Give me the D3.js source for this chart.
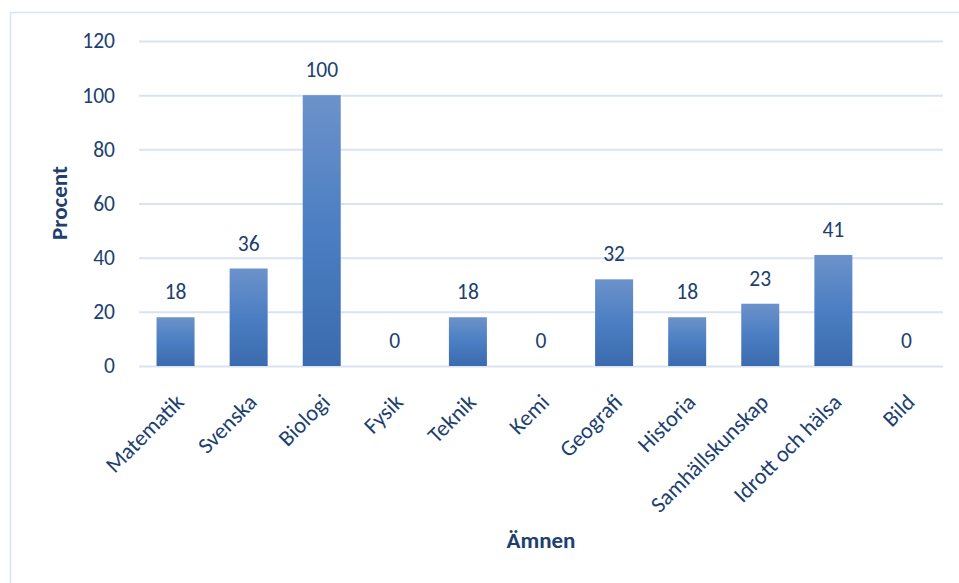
<!DOCTYPE html>
<html><head><meta charset="utf-8">
<script src="https://cdn.jsdelivr.net/npm/d3@7"></script>
<style>body{margin:0;background:#fff}svg{display:block}</style>
</head><body>
<svg id="c" width="959" height="583"></svg>
<script>
const categories = ["Matematik","Svenska","Biologi","Fysik","Teknik","Kemi","Geografi","Historia","Samhällskunskap","Idrott och hälsa","Bild"];
const values = [18,36,100,0,18,0,32,18,23,41,0];
const yTicks = [0,20,40,60,80,100,120];
const yTitle = "Procent";
const xTitle = "Ämnen";

const font = "Carlito, 'Open Sans', sans-serif";
const fs = "21.5px";
const fsX = "22.5px";
const fsT = "23px";
const txt = "#203F6F";
const svg = d3.select("#c");
const W = 959, H = 583;
const m = {l:139, r:943, t:41, b:366};

// border
svg.append("path").attr("d", `M10.5,${H} V12.5 H${W}`).attr("fill","none").attr("stroke","#D6E4F5").attr("stroke-width",1.5);

const defs = svg.append("defs");
const g = defs.append("linearGradient").attr("id","bg").attr("x1",0).attr("x2",0).attr("y1",0).attr("y2",1);
g.append("stop").attr("offset","0%").attr("stop-color","#6C92CA");
g.append("stop").attr("offset","50%").attr("stop-color","#4B7EC2");
g.append("stop").attr("offset","100%").attr("stop-color","#3A6BAE");

const x = d3.scaleBand().domain(categories).range([m.l, m.r]).paddingInner(0.48).paddingOuter(0.24);
const y = d3.scaleLinear().domain([0,120]).range([m.b, m.t]);

// gridlines
const ya = d3.axisLeft(y).tickValues(yTicks).tickSize(-(m.r-m.l)).tickPadding(24);
const gy = svg.append("g").attr("transform",`translate(${m.l},0)`).call(ya);
gy.select(".domain").remove();
gy.selectAll(".tick line").attr("stroke","#D9E3F1").attr("stroke-width",2);
gy.selectAll(".tick text").attr("fill",txt).style("font-family",font).style("font-size",fs);

// bars
svg.append("g").selectAll("rect").data(values).join("rect")
  .attr("x",(d,i)=>x(categories[i]))
  .attr("width",x.bandwidth())
  .attr("y",d=>y(d))
  .attr("height",d=>y(0)-y(d))
  .attr("fill","url(#bg)");

// value labels
svg.append("g").selectAll("text").data(values).join("text")
  .attr("x",(d,i)=>x(categories[i])+x.bandwidth()/2)
  .attr("y",d=>y(d)-18)
  .attr("text-anchor","middle")
  .attr("fill",txt).style("font-family",font).style("font-size",fs)
  .text(d=>d);

// x axis
const xa = d3.axisBottom(x).tickSize(0).tickPadding(0);
const gx = svg.append("g").attr("transform",`translate(0,${m.b})`).call(xa);
gx.select(".domain").remove();
gx.selectAll(".tick text")
  .attr("text-anchor","end")
  .attr("fill",txt).style("font-family",font).style("font-size",fsX)
  .attr("dy","0.35em")
  .attr("transform","translate(4,32) rotate(-45)");

// titles
svg.append("text").attr("x",(m.l+m.r)/2).attr("y",548).attr("text-anchor","middle")
  .attr("fill",txt).style("font-family",font).style("font-size",fsT).style("font-weight","bold").text(xTitle);
svg.append("text").attr("transform",`translate(67,203) rotate(-90)`).attr("text-anchor","middle")
  .attr("fill",txt).style("font-family",font).style("font-size",fsT).style("font-weight","bold").text(yTitle);
</script>
</body></html>
